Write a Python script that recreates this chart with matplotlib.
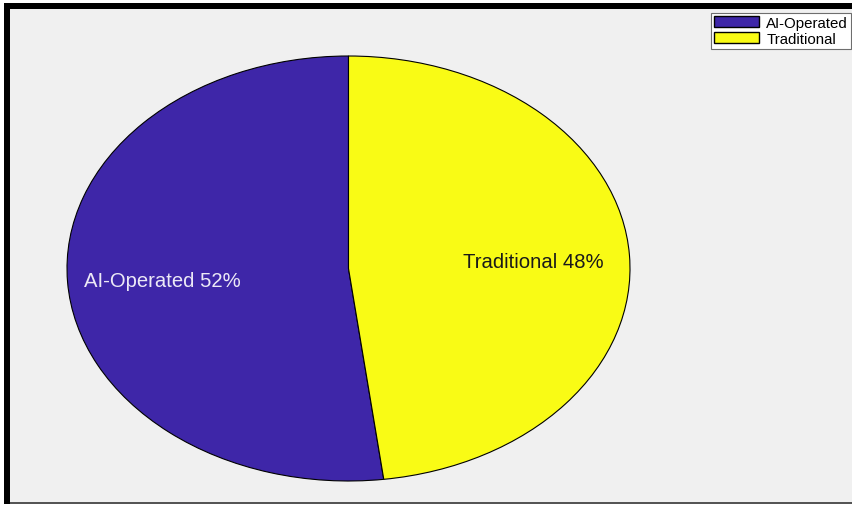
import matplotlib.pyplot as plt
from matplotlib.patches import Rectangle

plt.rcParams['font.family'] = ['Liberation Sans', 'DejaVu Sans']

# Share of operations by type
labels = ["AI-Operated", "Traditional"]
shares = [52, 48]
colors = ["#3e26a8", "#f9fb15"]
text_colors = ["#ece9f6", "#1a1a1a"]

W, H = 853, 506
fig = plt.figure(figsize=(W / 100, H / 100), dpi=100, facecolor="white")


def box(x0, y0, w, h, color):
    # rectangle given in pixels (top-left origin), placed behind the axes
    r = Rectangle((x0 / W, 1 - (y0 + h) / H), w / W, h / H,
                  transform=fig.transFigure, facecolor=color,
                  edgecolor="none", zorder=-10)
    fig.patches.append(r)


# panel background with its heavy left/top frame
box(4, 4, W, 501, "#555555")
box(4, 4, W, 6, "black")
box(4, 4, 6, 501, "black")
box(10, 10, W, 493, "#f0f0f0")

ax = fig.add_axes([0, 0, 1, 1])
ax.patch.set_alpha(0)

wedges, _ = ax.pie(shares, colors=colors, startangle=90, counterclock=True,
                   wedgeprops=dict(edgecolor="black", linewidth=0.8))
ax.set_aspect("auto")

# stretch the unit pie into an ellipse centred at (348.5, 269.5) px
cx, cy, rx, ry = 348.5, 269.5, 281.5, 212.5
ax.set_xlim(-cx / rx, (W - cx) / rx)
ax.set_ylim((cy - H) / ry, cy / ry)
ax.axis("off")

label_pos = [(-0.66, -0.055), (0.656, 0.035)]
for lab, val, tc, (lx, ly) in zip(labels, shares, text_colors, label_pos):
    ax.text(lx, ly, f"{lab} {val}%", color=tc, fontsize=14.6, ha="center", va="center")

leg = fig.legend(wedges, labels, loc="upper right",
                 bbox_to_anchor=(851 / W, 1 - 14 / H), fontsize=10.8,
                 frameon=True, fancybox=False, framealpha=1, edgecolor="#6e6e6e",
                 handlelength=3.0, handleheight=0.75, handletextpad=0.5,
                 borderpad=0.2, labelspacing=0.12, borderaxespad=0)
leg.get_frame().set_linewidth(0.8)
for h in leg.legend_handles:
    h.set_linewidth(1.0)

fig.savefig("out.png", dpi=100, facecolor="white")
